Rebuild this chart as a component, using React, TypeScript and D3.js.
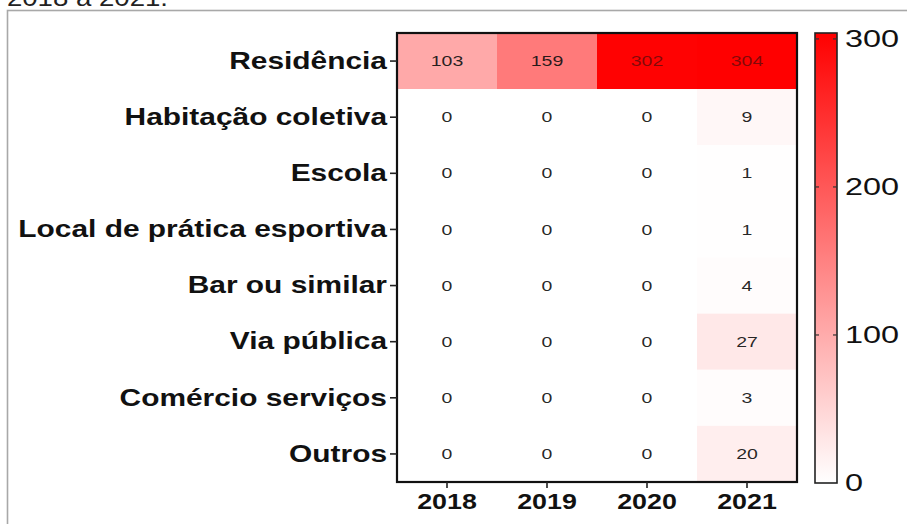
import React from "react";
import * as d3 from "d3";

const categories = [
  "Residência",
  "Habitação coletiva",
  "Escola",
  "Local de prática esportiva",
  "Bar ou similar",
  "Via pública",
  "Comércio serviços",
  "Outros",
];
const years = ["2018", "2019", "2020", "2021"];
const values2018 = [103, 0, 0, 0, 0, 0, 0, 0];
const values2019 = [159, 0, 0, 0, 0, 0, 0, 0];
const values2020 = [302, 0, 0, 0, 0, 0, 0, 0];
const values2021 = [304, 9, 1, 1, 4, 27, 3, 20];
const colorbarTicks = [0, 100, 200, 300];
const titleText = "2018 a 2021.";

const W = 907;
const H = 524;
const FONT = "'Liberation Sans', Arial, Helvetica, sans-serif";

export default function App() {
  const series = [values2018, values2019, values2020, values2021];
  const cells = years.flatMap((yr, j) =>
    categories.map((cat, i) => ({ yr, cat, v: series[j][i] }))
  );
  const maxV = d3.max(cells, (d) => d.v) as number;

  const panel = { x0: 397, x1: 797, y0: 33, y1: 482 };
  const x = d3.scaleBand().domain(years).range([panel.x0, panel.x1]).padding(0);
  const y = d3.scaleBand().domain(categories).range([panel.y0, panel.y1]).padding(0);
  const color = d3.scaleLinear<string>().domain([0, maxV]).range(["#ffffff", "#ff0000"]).interpolate(d3.interpolateRgb);

  const cb = { x0: 815, x1: 837 };
  const cbY = d3.scaleLinear().domain([0, maxV]).range([panel.y1 + 1, panel.y0]);
  const stops = d3.range(0, 11).map((k) => k / 10);

  const stretched = (
    key: string,
    tx: number,
    ty: number,
    txt: string,
    size: number,
    weight: string,
    anchor: "start" | "middle" | "end",
    fill = "#000",
    sx = 1.3,
    opacity = 1
  ) => (
    <text
      key={key}
      transform={`translate(${tx},${ty}) scale(${sx},1)`}
      fontFamily={FONT}
      fontSize={size}
      fontWeight={weight}
      textAnchor={anchor}
      dominantBaseline="central"
      fill={fill}
      fillOpacity={opacity}
    >
      {txt}
    </text>
  );

  return (
    <div style={{ position: "absolute", left: 0, top: 0 }}>
      <svg width={W} height={H} style={{ display: "block", background: "#fff" }}>
        <defs>
          <linearGradient id="cbgrad" x1="0" y1="1" x2="0" y2="0">
            {stops.map((s) => (
              <stop key={s} offset={s} stopColor={color(s * maxV)} />
            ))}
          </linearGradient>
        </defs>
        <text x={6} y={6} fontFamily={FONT} fontSize={24} fill="#222" transform="scale(1.15,1)">
          {titleText}
        </text>
        <rect x={7.5} y={10.5} width={1000} height={1000} fill="none" stroke="#a8a8a8" strokeWidth={1.6} />

        {cells.map((d) => (
          <rect
            key={`c-${d.yr}-${d.cat}`}
            x={x(d.yr)}
            y={y(d.cat)}
            width={x.bandwidth()}
            height={y.bandwidth()}
            fill={color(d.v)}
          />
        ))}
        {cells.map((d) =>
          stretched(
            `t-${d.yr}-${d.cat}`,
            (x(d.yr) as number) + x.bandwidth() / 2,
            (y(d.cat) as number) + y.bandwidth() / 2,
            String(d.v),
            15,
            "normal",
            "middle",
            "#111",
            1.3,
            d.v > 250 ? 0.55 : 0.92
          )
        )}
        <rect
          x={panel.x0}
          y={panel.y0}
          width={panel.x1 - panel.x0}
          height={panel.y1 - panel.y0}
          fill="none"
          stroke="#111"
          strokeWidth={2.2}
        />

        {categories.map((c) => {
          const cy = (y(c) as number) + y.bandwidth() / 2;
          return (
            <g key={`yl-${c}`}>
              <line x1={panel.x0 - 7} x2={panel.x0} y1={cy} y2={cy} stroke="#222" strokeWidth={1.6} />
              {stretched(`ylt-${c}`, panel.x0 - 10, cy, c, 23, "bold", "end", "#111", 1.3)}
            </g>
          );
        })}

        {years.map((yr) => {
          const cx = (x(yr) as number) + x.bandwidth() / 2;
          return (
            <g key={`xl-${yr}`}>
              <line x1={cx} x2={cx} y1={panel.y1} y2={panel.y1 + 6} stroke="#222" strokeWidth={1.6} />
              {stretched(`xlt-${yr}`, cx, panel.y1 + 19, yr, 22, "bold", "middle", "#111", 1.22)}
            </g>
          );
        })}

        <rect
          x={cb.x0}
          y={cbY(maxV)}
          width={cb.x1 - cb.x0}
          height={cbY(0) - cbY(maxV)}
          fill="url(#cbgrad)"
          stroke="#222"
          strokeWidth={1.6}
        />
        {colorbarTicks.map((t) => (
          <g key={`cb-${t}`}>
            {t > 0 && t < maxV ? (
              <>
                <line x1={cb.x0} x2={cb.x0 + 4} y1={cbY(t)} y2={cbY(t)} stroke="#333" strokeWidth={1.2} />
                <line x1={cb.x1 - 4} x2={cb.x1} y1={cbY(t)} y2={cbY(t)} stroke="#333" strokeWidth={1.2} />
              </>
            ) : null}
            {stretched(`cbt-${t}`, cb.x1 + 8, cbY(t), String(t), 24, "normal", "start", "#111", 1.35)}
          </g>
        ))}
      </svg>
    </div>
  );
}
